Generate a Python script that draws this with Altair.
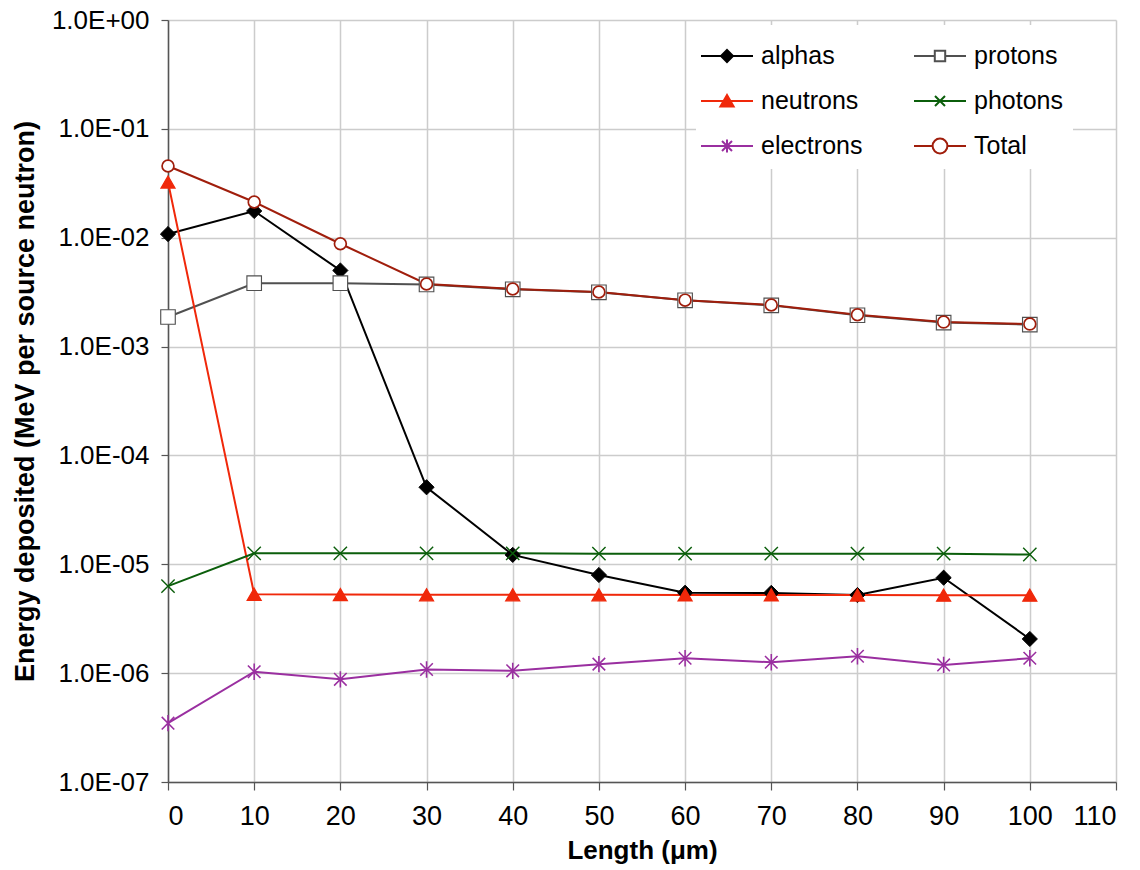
import altair as alt
import pandas as pd

lengths = [0, 10, 20, 30, 40, 50, 60, 70, 80, 90, 100]
alphas = [1.08e-2, 1.76e-2, 5.0e-3, 5.1e-5, 1.22e-5, 7.97e-6, 5.48e-6, 5.46e-6, 5.22e-6, 7.53e-6, 2.06e-6]
protons = [1.87e-3, 3.82e-3, 3.82e-3, 3.72e-3, 3.36e-3, 3.15e-3, 2.66e-3, 2.39e-3, 1.94e-3, 1.66e-3, 1.59e-3]
neutrons = [3.25e-2, 5.3e-6, 5.28e-6, 5.24e-6, 5.24e-6, 5.24e-6, 5.23e-6, 5.23e-6, 5.22e-6, 5.2e-6, 5.2e-6]
photons = [6.3e-6, 1.26e-5, 1.26e-5, 1.26e-5, 1.26e-5, 1.25e-5, 1.25e-5, 1.25e-5, 1.25e-5, 1.25e-5, 1.23e-5]
electrons = [3.47e-7, 1.03e-6, 8.77e-7, 1.08e-6, 1.05e-6, 1.21e-6, 1.37e-6, 1.26e-6, 1.43e-6, 1.19e-6, 1.37e-6]
total = [4.56e-2, 2.13e-2, 8.8e-3, 3.76e-3, 3.38e-3, 3.17e-3, 2.67e-3, 2.41e-3, 1.96e-3, 1.68e-3, 1.61e-3]

series_names = ["alphas", "protons", "neutrons", "photons", "electrons", "Total"]
series_values = [alphas, protons, neutrons, photons, electrons, total]
line_colors = ["#000000", "#505050", "#f0280a", "#0b5e0b", "#9a2fa0", "#a01e0c"]
fill_colors = ["#000000", "#ffffff", "#f0280a", "#0b5e0b", "#9a2fa0", "#ffffff"]
y_ticks = [1e-7, 1e-6, 1e-5, 1e-4, 1e-3, 1e-2, 1e-1, 1.0]
x_ticks = list(range(0, 111, 10))

rows = []
for name, vals in zip(series_names, series_values):
    for xv, v in zip(lengths, vals):
        rows.append({"length": xv, "energy": v, "series": name})
df = pd.DataFrame(rows)

XMARK = "M-1,-1L1,1M-1,1L1,-1"
STAR = "M-1,-1L1,1M-1,1L1,-1M0,-1.3L0,1.3"
marker_shapes = ["diamond", "square", "triangle-up", XMARK, STAR, "circle"]
marker_sizes = [230, 140, 250, 130, 130, 300]
marker_widths = [1, 1.7, 1, 2, 2, 1.9]

def seg(a):
    return f"M-1.3,0L-{a},0M{a},0L1.3,0"

FULL = "M-1.3,0L1.3,0"
legend_shapes = [
    FULL + "M0,-0.3L0.3,0L0,0.3L-0.3,0Z",
    seg(0.26) + "M-0.26,-0.26L0.26,-0.26L0.26,0.26L-0.26,0.26Z",
    FULL + "M0,-0.3L0.33,0.27L-0.33,0.27Z",
    FULL + "M-0.25,-0.25L0.25,0.25M-0.25,0.25L0.25,-0.25",
    FULL + "M-0.25,-0.25L0.25,0.25M-0.25,0.25L0.25,-0.25M0,-0.32L0,0.32",
    seg(0.37) + "M0.37,0A0.37,0.37,0,1,1,-0.37,0A0.37,0.37,0,1,1,0.37,0Z",
]

x_enc = alt.X(
    "length:Q",
    scale=alt.Scale(domain=[0, 110], nice=False, zero=False),
    axis=alt.Axis(
        values=x_ticks, title="Length (μm)", tickSize=8, labelPadding=13,
        labelFontSize=27, titleFontSize=26, titlePadding=8,
    ),
)
y_label_expr = (
    "'1.0E' + (datum.value >= 1 ? '+' : '-') + "
    "(abs(round(log(datum.value)/LN10)) < 10 ? '0' : '') + "
    "abs(round(log(datum.value)/LN10))"
)
y_enc = alt.Y(
    "energy:Q",
    scale=alt.Scale(type="log", domain=[1e-7, 1], nice=False),
    axis=alt.Axis(
        values=y_ticks, labelExpr=y_label_expr,
        title="Energy deposited (MeV per source neutron)",
        tickSize=7, labelPadding=12, labelFontSize=26, titleFontSize=27,
        titlePadding=12,
    ),
)

base = alt.Chart(df)

lines = base.mark_line(strokeWidth=2).encode(
    x=x_enc, y=y_enc,
    color=alt.Color("series:N", scale=alt.Scale(domain=series_names, range=line_colors), legend=None),
    detail="series:N",
)

points = base.mark_point(opacity=1, filled=False).encode(
    x=x_enc, y=y_enc,
    shape=alt.Shape("series:N", scale=alt.Scale(domain=series_names, range=marker_shapes), legend=None),
    stroke=alt.Stroke("series:N", scale=alt.Scale(domain=series_names, range=line_colors), legend=None),
    fill=alt.Fill("series:N", scale=alt.Scale(domain=series_names, range=fill_colors), legend=None),
    size=alt.Size("series:N", scale=alt.Scale(domain=series_names, range=marker_sizes), legend=None),
    strokeWidth=alt.StrokeWidth("series:N", scale=alt.Scale(domain=series_names, range=marker_widths), legend=None),
)

leg = alt.Legend(
    title=None, orient="none", legendX=528, legendY=5, columns=2, direction="horizontal",
    symbolSize=1600, symbolStrokeWidth=2, labelFontSize=25, labelColor="#000000",
    labelOffset=13, columnPadding=47, rowPadding=11, padding=10,
    fillColor="#ffffff", labelFont="Liberation Sans",
)

legend_layer = base.transform_filter("false").mark_point(opacity=1, filled=False).encode(
    shape=alt.Shape("series:N", scale=alt.Scale(domain=series_names, range=legend_shapes), legend=leg),
    stroke=alt.Stroke("series:N", scale=alt.Scale(domain=series_names, range=line_colors), legend=leg),
    fill=alt.Fill("series:N", scale=alt.Scale(domain=series_names, range=fill_colors), legend=leg),
)

chart = (
    alt.layer(lines, points, legend_layer)
    .resolve_scale(shape="independent", stroke="independent", fill="independent")
    .resolve_legend(shape="independent", stroke="independent", fill="independent")
    .properties(
        width=948, height=762,
        autosize=alt.AutoSizeParams(type="none"),
        padding={"left": 168, "top": 20, "right": 24, "bottom": 88},
        background="#ffffff",
    )
    .configure_axis(
        labelFont="Liberation Sans", titleFont="Liberation Sans",
        labelColor="#000000", titleColor="#000000",
        gridColor="#cccccc", gridWidth=1.5,
        domainColor="#555555", domainWidth=1.5,
        tickColor="#555555", tickWidth=1.2,
    )
    .configure_view(stroke=None)
)

chart.save("out.html", embed_options={"renderer": "svg", "actions": False})
